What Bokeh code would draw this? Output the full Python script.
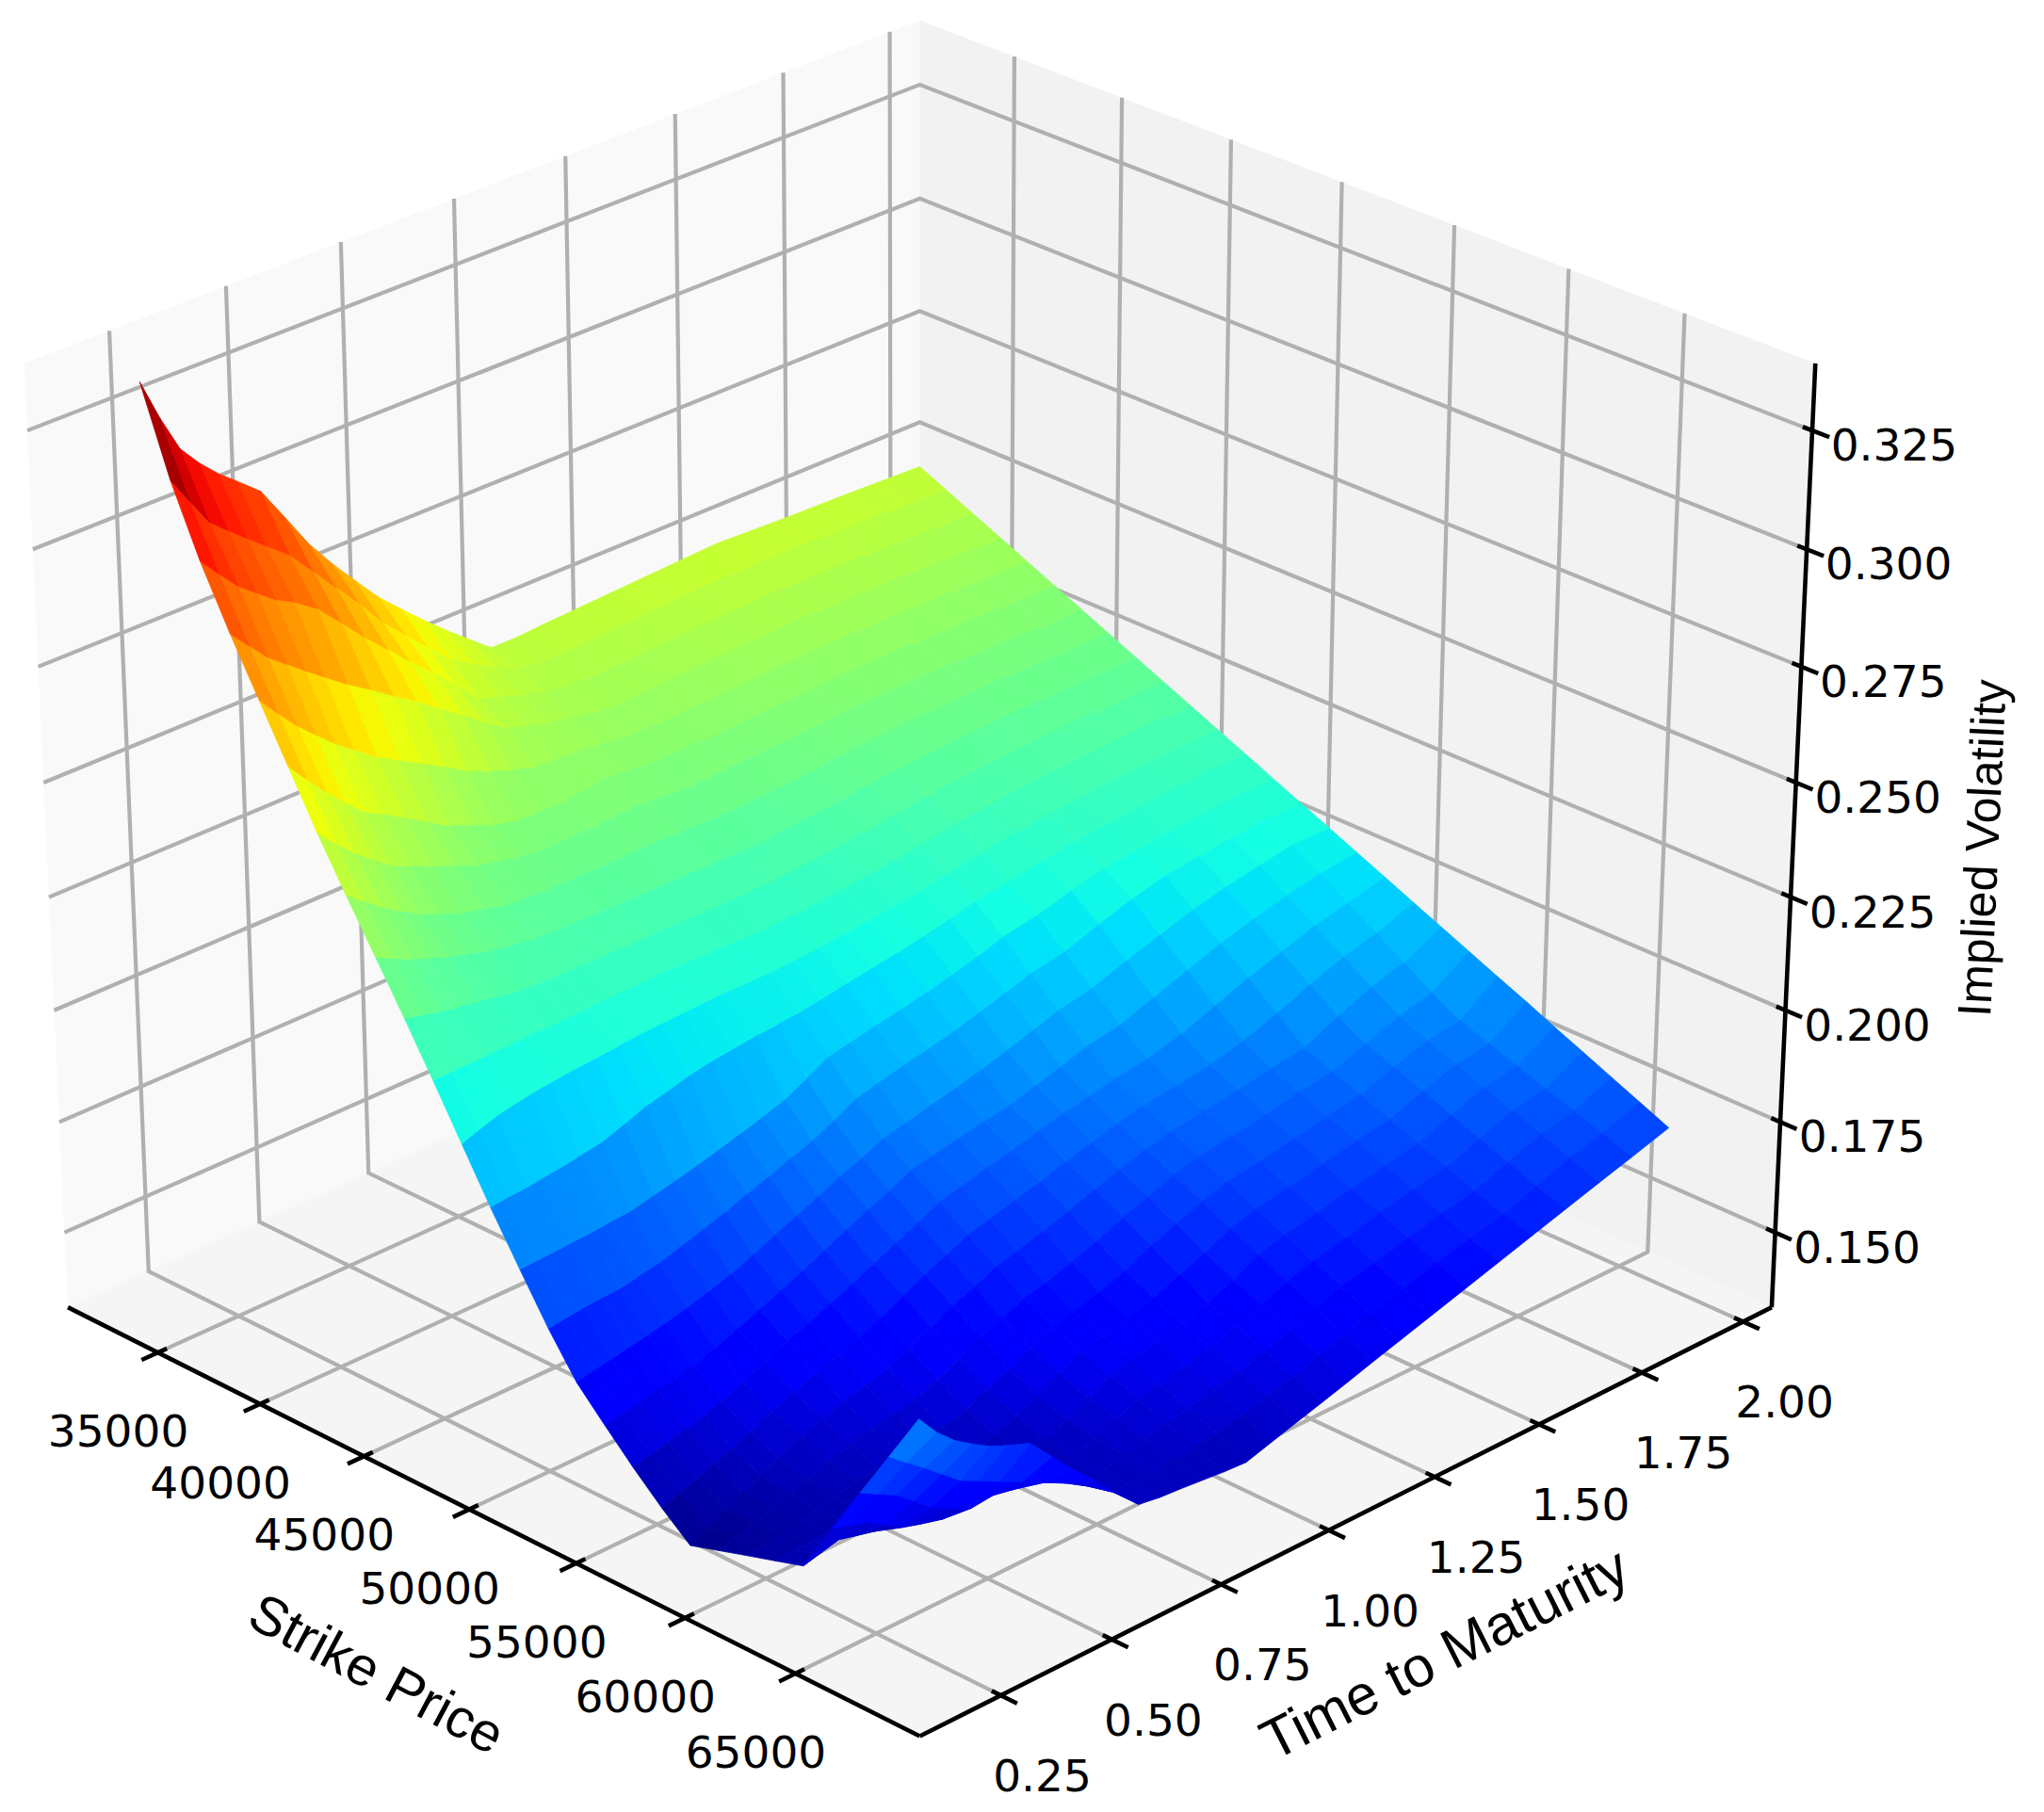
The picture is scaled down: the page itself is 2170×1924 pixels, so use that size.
import numpy as np
from bokeh.plotting import figure
from bokeh.models import Range1d, ColumnDataSource
from bokeh.core.properties import value
from bokeh.embed import file_html
from bokeh.resources import INLINE

# ---- data ----
STRIKES = [33340, 34620, 35900, 37220, 38500, 39780, 41060, 42340, 43660, 44940, 46220, 47500, 48780, 50100,
           51380, 52660, 53940, 55220, 56540, 57820, 59100, 60380, 61700, 62980, 64260, 65540, 66820, 68140]
MATURITIES = [0.188, 0.227, 0.267, 0.306, 0.346, 0.386, 0.435, 0.485, 0.534, 0.584, 0.633, 0.683, 0.732, 0.782, 0.832, 0.881,
              0.931, 0.990, 1.049, 1.109, 1.168, 1.228, 1.287, 1.366, 1.446, 1.525, 1.604, 1.683, 1.763, 1.842, 1.931]
# implied volatility x 10000, one row per maturity
IV = [
 [3360,3180,3035,2907,2792,2677,2562,2455,2349,2245,2138,2028,1918,1811,1710,1620,1555,1492,1432,1380,1400,1420,1440,1460,1573,1683,1792,1905],
 [3270,3120,2992,2866,2748,2633,2523,2425,2330,2235,2139,2042,1922,1813,1715,1628,1563,1501,1446,1400,1410,1425,1442,1470,1561,1661,1761,1858],
 [3190,3060,2950,2825,2705,2590,2485,2395,2310,2225,2140,2055,1925,1815,1720,1635,1570,1510,1460,1420,1420,1430,1445,1480,1550,1640,1730,1821],
 [3145,3027,2920,2795,2670,2552,2455,2370,2295,2218,2140,2063,1930,1818,1723,1643,1578,1520,1475,1440,1435,1438,1448,1470,1525,1608,1698,1795],
 [3107,2995,2890,2765,2635,2515,2425,2345,2280,2210,2140,2070,1935,1820,1725,1650,1585,1530,1490,1460,1450,1445,1450,1460,1500,1575,1665,1771],
 [3075,2963,2869,2735,2606,2493,2407,2329,2269,2203,2141,2075,1942,1824,1732,1659,1596,1546,1508,1480,1463,1454,1452,1457,1488,1554,1645,1754],
 [3035,2925,2835,2700,2570,2465,2385,2310,2255,2195,2142,2080,1950,1828,1740,1670,1610,1565,1530,1505,1480,1465,1455,1455,1475,1530,1620,1735],
 [2960,2870,2785,2668,2542,2435,2365,2297,2247,2192,2143,2084,1967,1839,1755,1685,1630,1587,1550,1520,1492,1472,1460,1455,1480,1535,1595,1682],
 [2885,2815,2735,2635,2515,2405,2345,2285,2240,2190,2145,2088,1985,1850,1770,1700,1650,1610,1570,1535,1505,1480,1465,1460,1480,1525,1570,1630],
 [2822,2760,2688,2603,2487,2385,2334,2282,2238,2190,2147,2091,1997,1862,1786,1720,1670,1628,1586,1549,1515,1486,1467,1470,1490,1520,1545,1581],
 [2766,2700,2640,2568,2458,2365,2324,2280,2237,2190,2149,2094,2010,1875,1803,1742,1692,1648,1603,1563,1525,1492,1469,1465,1485,1500,1515,1531],
 [2710,2652,2597,2532,2435,2354,2319,2279,2236,2190,2150,2096,2019,1889,1820,1762,1714,1669,1625,1585,1545,1508,1482,1465,1475,1485,1482,1482],
 [2665,2605,2550,2495,2418,2352,2320,2279,2235,2190,2150,2098,2025,1903,1838,1783,1737,1692,1650,1610,1570,1530,1502,1480,1470,1468,1470,1474],
 [2620,2560,2500,2462,2403,2351,2320,2280,2235,2190,2150,2100,2031,1919,1855,1805,1760,1715,1674,1634,1594,1553,1524,1499,1489,1483,1476,1470],
 [2578,2530,2483,2448,2401,2358,2324,2281,2235,2190,2148,2100,2034,1943,1878,1824,1780,1737,1695,1654,1613,1577,1550,1525,1509,1494,1480,1465],
 [2539,2503,2468,2434,2398,2365,2327,2282,2235,2190,2146,2100,2038,1968,1904,1845,1804,1761,1718,1676,1634,1601,1577,1553,1530,1506,1482,1460],
 [2500,2478,2456,2425,2392,2361,2323,2280,2235,2190,2147,2103,2045,1978,1916,1856,1813,1772,1730,1688,1646,1612,1588,1563,1540,1515,1490,1457],
 [2500,2473,2445,2414,2384,2354,2318,2277,2233,2191,2150,2107,2055,1990,1930,1870,1826,1787,1746,1706,1666,1628,1602,1577,1553,1529,1504,1474],
 [2504,2474,2445,2414,2384,2355,2320,2278,2235,2194,2154,2112,2064,2001,1942,1883,1836,1800,1761,1723,1685,1648,1618,1591,1566,1541,1517,1491],
 [2507,2477,2447,2416,2386,2356,2324,2282,2240,2199,2159,2119,2073,2013,1955,1898,1847,1816,1779,1745,1711,1677,1642,1610,1585,1560,1534,1508],
 [2510,2480,2450,2419,2388,2358,2327,2285,2244,2205,2165,2126,2084,2027,1971,1915,1863,1829,1795,1763,1731,1699,1665,1633,1607,1580,1553,1525],
 [2513,2483,2453,2422,2391,2361,2330,2289,2250,2211,2172,2133,2096,2042,1988,1933,1880,1841,1810,1781,1752,1722,1692,1662,1632,1602,1572,1543],
 [2516,2487,2456,2425,2394,2364,2333,2296,2258,2220,2182,2145,2110,2060,2006,1952,1898,1854,1824,1795,1767,1739,1709,1680,1651,1622,1593,1560],
 [2520,2490,2459,2428,2397,2367,2337,2302,2265,2229,2194,2158,2122,2074,2020,1966,1912,1865,1834,1806,1778,1751,1722,1694,1666,1639,1611,1583],
 [2524,2492,2462,2431,2400,2370,2340,2306,2271,2237,2203,2169,2134,2095,2047,1993,1939,1885,1845,1818,1792,1766,1739,1712,1686,1659,1633,1606],
 [2521,2492,2462,2431,2401,2372,2342,2309,2275,2243,2210,2177,2145,2111,2070,2017,1966,1914,1865,1831,1806,1780,1754,1728,1703,1677,1651,1629],
 [2518,2491,2461,2431,2401,2372,2342,2311,2278,2247,2216,2184,2153,2121,2089,2040,1991,1942,1891,1842,1817,1793,1767,1742,1717,1693,1668,1652],
 [2516,2488,2459,2430,2400,2371,2342,2312,2281,2250,2221,2190,2160,2129,2098,2057,2013,1967,1922,1878,1845,1821,1796,1771,1746,1722,1697,1675],
 [2514,2486,2457,2428,2399,2370,2341,2312,2282,2253,2224,2195,2165,2136,2107,2072,2032,1991,1950,1909,1872,1845,1821,1797,1773,1749,1724,1698],
 [2511,2483,2454,2424,2395,2366,2337,2310,2281,2254,2226,2199,2171,2143,2116,2085,2047,2008,1968,1930,1891,1856,1833,1811,1788,1766,1744,1720],
 [2508,2480,2452,2423,2395,2367,2339,2311,2282,2254,2226,2198,2170,2141,2113,2085,2057,2029,2000,1972,1944,1916,1888,1859,1831,1803,1775,1746],
]
X_TICKS = [35000, 40000, 45000, 50000, 55000, 60000, 65000]
Y_TICKS = [0.25, 0.50, 0.75, 1.00, 1.25, 1.50, 1.75, 2.00]
Z_TICKS = [0.150, 0.175, 0.200, 0.225, 0.250, 0.275, 0.300, 0.325]
X_LABEL, Y_LABEL, Z_LABEL = "Strike Price", "Time to Maturity", "Implied Volatility"

# ---- 3-D view ----
XLIM = (30540.0, 70540.0)
YLIM = (0.0701, 2.0712)
ZLIM = (0.1329, 0.3390)
ELEV, AZIM, DIST = np.radians(30.0), np.radians(-45.0), 10.0
PX0, SX, PY0, SY = 976.0, 1311.0, 899.0, 1156.6
VMIN, VMAX = 0.137, 0.33


def project(x, y, z):
    a = (np.asarray(x, float) - XLIM[0]) / (XLIM[1] - XLIM[0]) - 0.5
    b = (np.asarray(y, float) - YLIM[0]) / (YLIM[1] - YLIM[0]) - 0.5
    c = (np.asarray(z, float) - ZLIM[0]) / (ZLIM[1] - ZLIM[0]) - 0.5
    ce, se, ca, sa = np.cos(ELEV), np.sin(ELEV), np.cos(AZIM), np.sin(AZIM)
    xv = -sa * a + ca * b
    yv = -se * ca * a - se * sa * b + ce * c
    d = ce * ca * a + ce * sa * b + se * c
    f = DIST / (DIST - d)
    return PX0 + SX * xv * f, PY0 - SY * yv * f, d


def jet(f):
    f = np.clip(f, 0, 1)
    r = np.interp(f, [0, .35, .66, .89, 1], [0, 0, 1, 1, .5])
    g = np.interp(f, [0, .125, .375, .64, .91, 1], [0, 0, 1, 1, 0, 0])
    b = np.interp(f, [0, .11, .34, .65, 1], [.5, 1, 1, 0, 0])
    return "#%02x%02x%02x" % (int(r * 255 + .5), int(g * 255 + .5), int(b * 255 + .5))


W, H = 2154, 1916
p = figure(width=W, height=H, x_range=Range1d(0, W), y_range=Range1d(H, 0),
           toolbar_location=None, output_backend="svg", min_border=0,
           x_axis_type=None, y_axis_type=None, background_fill_color="white",
           border_fill_color="white", outline_line_color=None)
p.grid.visible = False

x0, x1 = XLIM
y0, y1 = YLIM
z0, z1 = ZLIM


def pane(xs, ys, zs, color):
    px, py, _ = project(xs, ys, zs)
    p.patch(list(px), list(py), fill_color=color, line_color=None)


pane([x0, x0, x0, x0], [y0, y1, y1, y0], [z0, z0, z1, z1], "#f9f9f9")
pane([x0, x1, x1, x0], [y1, y1, y1, y1], [z0, z0, z1, z1], "#f2f2f2")
pane([x0, x1, x1, x0], [y0, y0, y1, y1], [z0, z0, z0, z0], "#f5f5f5")

GRID = "#b0b0b0"
gx, gy = [], []


def poly(xs, ys, zs):
    px, py, _ = project(xs, ys, zs)
    gx.append(list(px))
    gy.append(list(py))


for k in X_TICKS:
    poly([k, k, k], [y0, y1, y1], [z0, z0, z1])
for t in Y_TICKS:
    poly([x1, x0, x0], [t, t, t], [z0, z0, z1])
for v in Z_TICKS:
    poly([x0, x0, x1], [y0, y1, y1], [v, v, v])
p.multi_line(gx, gy, line_color=GRID, line_width=4.2, line_join="miter")

# axis lines and ticks
ax, ay = [], []
TICK_OUT, TICK_IN = 0.018, 0.010


def seg(xs, ys, zs):
    px, py, _ = project(xs, ys, zs)
    ax.append(list(px))
    ay.append(list(py))


seg([x0, x1], [y0, y0], [z0, z0])
seg([x1, x1], [y0, y1], [z0, z0])
seg([x1, x1], [y1, y1], [z0, z1])
dy, dx = y1 - y0, x1 - x0
for k in X_TICKS:
    seg([k, k], [y0 - TICK_OUT * dy, y0 + TICK_IN * dy], [z0, z0])
for t in Y_TICKS:
    seg([x1 + TICK_OUT * dx, x1 - TICK_IN * dx], [t, t], [z0, z0])
for v in Z_TICKS:
    seg([x1 + TICK_OUT * dx, x1 - TICK_IN * dx], [y1, y1], [v, v])
p.multi_line(ax, ay, line_color="black", line_width=4.6)

# tick labels
TF = value("DejaVu Sans")
TS = value("47px")


def labels(px, py, txt, ox, oy):
    p.text(list(np.asarray(px) + ox), list(np.asarray(py) + oy), text=txt, text_font=TF, text_font_size=TS,
           text_align="center", text_baseline="middle", text_color="black")


px, py, _ = project(X_TICKS, [y0] * len(X_TICKS), [z0] * len(X_TICKS))
labels(px, py, [str(k) for k in X_TICKS], -42, 83)
px, py, _ = project([x1] * len(Y_TICKS), Y_TICKS, [z0] * len(Y_TICKS))
labels(px, py, ["%.2f" % t for t in Y_TICKS], 44, 85)
px, py, _ = project([x1] * len(Z_TICKS), [y1] * len(Z_TICKS), Z_TICKS)
labels(px, py, ["%.3f" % v for v in Z_TICKS], 87, 15)

LF = value("Liberation Sans")
p.text([400], [1776], text=[X_LABEL], angle=[-28], angle_units="deg", text_font=LF, text_font_size=value("58px"),
       text_align="center", text_baseline="middle", text_color="black")
p.text([1533], [1755], text=[Y_LABEL], angle=[26.8], angle_units="deg", text_font=LF, text_font_size=value("60px"),
       text_align="center", text_baseline="middle", text_color="black")
p.text([2104], [900], text=[Z_LABEL], angle=[87.3], angle_units="deg", text_font=LF, text_font_size=value("50px"),
       text_align="center", text_baseline="middle", text_color="black")

# surface, far cells first
K, T = np.meshgrid(STRIKES, MATURITIES)
Z = np.array(IV, float) / 10000.0
SX_, SY_, SD = project(K, T, Z)
cells = []
for i in range(Z.shape[0] - 1):
    for j in range(Z.shape[1] - 1):
        idx = [(i, j), (i, j + 1), (i + 1, j + 1), (i + 1, j)]
        d = np.mean([SD[q] for q in idx])
        m = np.mean([Z[q] for q in idx])
        cells.append((d, [SX_[q] for q in idx], [SY_[q] for q in idx], jet((m - VMIN) / (VMAX - VMIN))))
cells.sort(key=lambda c: c[0])
src = ColumnDataSource(dict(xs=[c[1] for c in cells], ys=[c[2] for c in cells], col=[c[3] for c in cells]))
p.patches("xs", "ys", source=src, fill_color="col", line_color="col", line_width=0.8)

open("out.html", "w").write(file_html(p, INLINE))
